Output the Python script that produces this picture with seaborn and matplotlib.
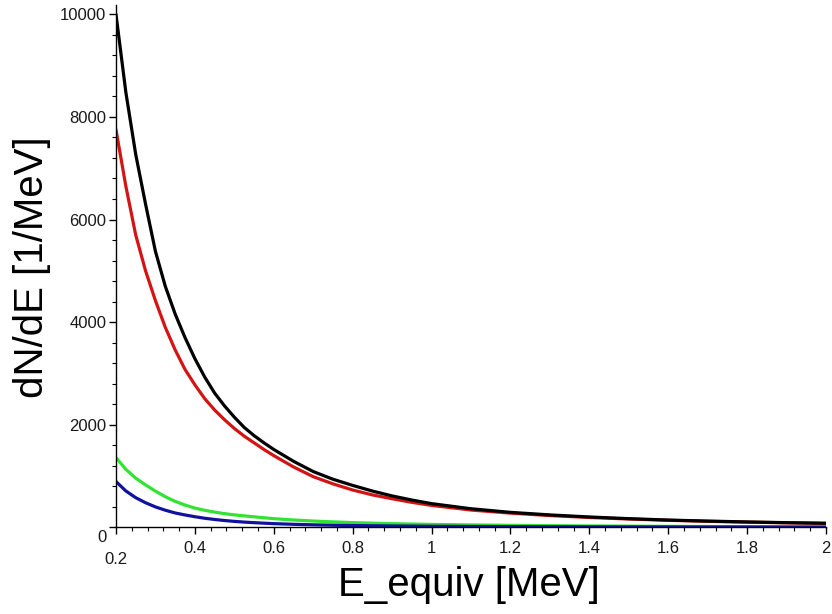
import pandas as pd
import matplotlib
matplotlib.use('Agg')
import matplotlib.pyplot as plt
import matplotlib.transforms as mtransforms
from matplotlib.ticker import MultipleLocator, FixedLocator, FixedFormatter
import seaborn as sns

# Values
energy = [0.2, 0.225, 0.25, 0.275, 0.3, 0.325, 0.35, 0.375, 0.4, 0.425, 0.45,
          0.475, 0.5, 0.525, 0.55, 0.575, 0.6, 0.65, 0.7, 0.75, 0.8, 0.85, 0.9,
          0.95, 1.0, 1.1, 1.2, 1.3, 1.4, 1.5, 1.6, 1.7, 1.8, 1.9, 2.0]
total = [10000, 8480, 7270, 6300, 5380, 4700, 4160, 3700, 3290, 2930, 2620,
         2370, 2150, 1950, 1790, 1650, 1520, 1290, 1090, 940, 820, 710, 615,
         535, 465, 365, 295, 245, 205, 172, 145, 125, 108, 94, 82]
red_curve = [7750, 6650, 5700, 5000, 4420, 3900, 3460, 3080, 2780, 2510, 2290,
             2100, 1930, 1780, 1650, 1520, 1400, 1180, 990, 850, 730, 635, 560,
             490, 430, 340, 280, 232, 195, 165, 140, 120, 104, 91, 80]
green_curve = [1362, 1133, 961, 829, 708, 600, 509, 437, 378, 335, 299,
               270, 246, 226, 208, 190, 172, 146, 126, 109, 95, 84, 75,
               67, 60, 50, 42, 35, 30, 26, 22, 19, 17, 15, 13]
blue_curve = [895, 712, 581, 482, 401, 337, 283, 244, 210, 180, 156,
              136, 119, 105, 94, 84, 75, 62, 52, 44, 38, 34, 30,
              27, 24, 20, 17, 14, 12, 11, 10, 9, 8, 7, 6]

series = {'green': green_curve, 'blue': blue_curve, 'red': red_curve, 'black': total}
palette = {'green': '#33e233', 'blue': '#10129e', 'red': '#d41414', 'black': '#000000'}

df = pd.concat([pd.DataFrame({'E': energy, 'dNdE': v, 'curve': k}) for k, v in series.items()],
               ignore_index=True)

sns.set_style('white')
plt.rcParams['font.family'] = ['Liberation Sans', 'DejaVu Sans']

fig = plt.figure(figsize=(8.32, 6.14), dpi=100)
ax = fig.add_axes([0.1394, 0.1409, 0.8534, 0.851])

sns.lineplot(data=df, x='E', y='dNdE', hue='curve', palette=palette,
             linewidth=2.3, legend=False, ax=ax, sort=False)

ax.set_xlim(0.2, 2.0)
ax.set_ylim(0, 10180)

for side in ['top', 'right']:
    ax.spines[side].set_visible(False)
for side in ['left', 'bottom']:
    ax.spines[side].set_linewidth(1.0)
    ax.spines[side].set_color('black')

xt = [0.2, 0.4, 0.6, 0.8, 1.0, 1.2, 1.4, 1.6, 1.8, 2.0]
xl = ['0.2', '0.4', '0.6', '0.8', '1', '1.2', '1.4', '1.6', '1.8', '2']
yt = [0, 2000, 4000, 6000, 8000, 10000]
yl = ['0', '2000', '4000', '6000', '8000', '10000']
ax.xaxis.set_major_locator(FixedLocator(xt))
ax.xaxis.set_major_formatter(FixedFormatter(xl))
ax.yaxis.set_major_locator(FixedLocator(yt))
ax.yaxis.set_major_formatter(FixedFormatter(yl))
ax.xaxis.set_minor_locator(MultipleLocator(0.04))
ax.yaxis.set_minor_locator(MultipleLocator(400))

ax.tick_params(which='major', direction='out', length=5, width=1, colors='black',
               labelsize=12, labelcolor='#1a1a1a', bottom=True, left=True)
ax.tick_params(which='minor', direction='out', length=3, width=0.8, colors='black',
               bottom=True, left=True)
ax.tick_params(axis='x', pad=5)
ax.tick_params(axis='y', pad=2)

# first labels sit a little lower, like the original
fig.canvas.draw()
lab = ax.get_xticklabels()[0]
lab.set_transform(lab.get_transform()
                  + mtransforms.ScaledTranslation(0, -8 / 72, fig.dpi_scale_trans))
lab = ax.get_yticklabels()[0]
lab.set_transform(lab.get_transform()
                  + mtransforms.ScaledTranslation(0, -6 / 72, fig.dpi_scale_trans))

ax.set_xlabel('')
ax.set_ylabel('')
fig.text(0.564, 0.048, 'E_equiv [MeV]', fontsize=29, ha='center', va='center',
         color='black')
fig.text(0.038, 0.565, 'dN/dE [1/MeV]', fontsize=29, ha='center', va='center',
         rotation=90, color='black')

plt.savefig('out.png', dpi=100)
plt.close()
